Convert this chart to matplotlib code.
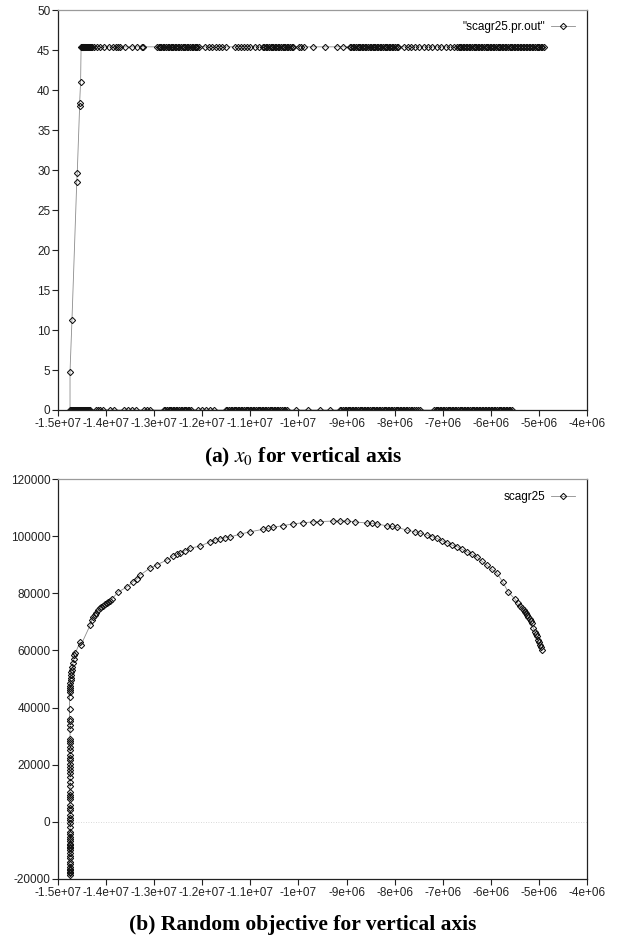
import matplotlib
matplotlib.use('Agg')
import matplotlib.pyplot as plt
from matplotlib.ticker import FuncFormatter, MultipleLocator

################################################################################
# Data (x in units of 1e6).                                                    #
################################################################################

# (a) points sitting on the zero line
zero_x = [-14.75, -14.73, -14.71, -14.69, -14.67, -14.65, -14.63, -14.61, -14.58, -14.56,
          -14.54, -14.52, -14.50, -14.48, -14.46, -14.44, -14.42, -14.40, -14.38, -14.36, -14.33,
          -14.21, -14.17, -14.13, -14.06, -13.92, -13.84, -13.63, -13.54, -13.46, -13.38,
          -13.21, -13.15, -13.09,
          -12.80, -12.77, -12.73, -12.70, -12.67, -12.64, -12.61, -12.58, -12.55, -12.52,
          -12.48, -12.45, -12.42, -12.39, -12.36, -12.33, -12.30, -12.27, -12.23,
          -12.09, -12.01, -11.92, -11.84, -11.76,
          -11.51, -11.48, -11.44, -11.41, -11.38, -11.35, -11.32, -11.29, -11.26, -11.23,
          -11.20, -11.17, -11.13, -11.10, -11.07, -11.04, -11.01, -10.98, -10.95, -10.92,
          -10.88, -10.85, -10.82, -10.79, -10.76, -10.73, -10.70, -10.67, -10.63, -10.60,
          -10.57, -10.54, -10.51, -10.48, -10.45, -10.42, -10.38, -10.34, -10.30, -10.27, -10.24,
          -10.05, -9.80, -9.55, -9.35,
          -9.14, -9.11, -9.07, -9.04, -9.01, -8.98, -8.95, -8.92, -8.89, -8.86, -8.83, -8.80,
          -8.76, -8.73, -8.70, -8.67, -8.64, -8.61, -8.58, -8.55, -8.51, -8.48, -8.45, -8.42,
          -8.39, -8.36, -8.33, -8.30, -8.26, -8.23, -8.20, -8.17, -8.14, -8.11, -8.08, -8.05,
          -8.01, -7.98, -7.95, -7.92, -7.89, -7.86, -7.83, -7.80, -7.77, -7.74, -7.70, -7.67,
          -7.64, -7.60, -7.56, -7.52, -7.47,
          -7.18, -7.15, -7.12, -7.09, -7.06, -7.03, -7.00, -6.97, -6.93, -6.90, -6.87, -6.84,
          -6.81, -6.78, -6.75, -6.72, -6.68, -6.65, -6.62, -6.59, -6.56, -6.53, -6.50, -6.47,
          -6.43, -6.40, -6.37, -6.34, -6.31, -6.28, -6.25, -6.22, -6.19, -6.16, -6.12, -6.09,
          -6.06, -6.03, -6.00, -5.97, -5.94, -5.91, -5.87, -5.84, -5.81, -5.78, -5.75, -5.72,
          -5.69, -5.66, -5.63, -5.60, -5.56]

# (a) the climb from 0 up to the plateau
rise_x = [-14.75, -14.71, -14.61, -14.60, -14.55, -14.55, -14.53]
rise_y = [4.8, 11.2, 28.5, 29.6, 38.0, 38.4, 41.0]

# (a) points on the plateau
top_level = 45.4
top_x = [-14.52, -14.51, -14.50, -14.49, -14.48, -14.47, -14.46, -14.45, -14.44, -14.43,
         -14.42, -14.40, -14.38, -14.36, -14.33, -14.31, -14.29, -14.25,
         -14.19, -14.13, -14.04, -13.94, -13.86, -13.79, -13.75, -13.71, -13.61, -13.46,
         -13.36, -13.25, -13.23,
         -12.94, -12.91, -12.88, -12.85, -12.82, -12.79, -12.75, -12.72, -12.69, -12.66,
         -12.63, -12.60, -12.57, -12.54, -12.51, -12.48, -12.44, -12.41, -12.38, -12.35,
         -12.32, -12.29, -12.26, -12.22, -12.19, -12.16, -12.13, -12.10, -12.07,
         -11.94, -11.86, -11.80, -11.72, -11.65, -11.59, -11.51,
         -11.32, -11.26, -11.20, -11.13, -11.07, -11.01, -10.90, -10.82,
         -10.74, -10.71, -10.68, -10.65, -10.61, -10.58, -10.55, -10.52, -10.49, -10.46,
         -10.43, -10.40, -10.36, -10.33, -10.30, -10.27, -10.24, -10.21, -10.18, -10.14, -10.11,
         -9.99, -9.95, -9.89, -9.70, -9.45, -9.20, -9.07,
         -8.93, -8.90, -8.87, -8.84, -8.80, -8.77, -8.74, -8.71, -8.68, -8.65, -8.62, -8.59,
         -8.55, -8.52, -8.49, -8.46, -8.43, -8.40, -8.37, -8.34, -8.31, -8.28, -8.24, -8.21,
         -8.18, -8.15, -8.12, -8.09, -8.06, -8.03, -7.99, -7.96, -7.93,
         -7.81, -7.72, -7.66, -7.58, -7.49,
         -7.39, -7.31, -7.22, -7.12, -7.04, -6.93, -6.85, -6.77,
         -6.70, -6.67, -6.64, -6.61, -6.58, -6.55, -6.52, -6.49, -6.46, -6.43, -6.39, -6.36,
         -6.33, -6.30, -6.27, -6.24, -6.21, -6.18, -6.14, -6.11, -6.08, -6.05, -6.02, -5.99,
         -5.96, -5.93, -5.89, -5.86, -5.83, -5.80, -5.77, -5.74, -5.71, -5.68, -5.64, -5.61,
         -5.58, -5.55, -5.52, -5.49, -5.46, -5.43, -5.40, -5.37, -5.33, -5.30, -5.27, -5.24,
         -5.21, -5.18, -5.15, -5.12, -5.08, -5.05, -5.02, -4.99, -4.96, -4.93, -4.90]

# (b) random objective: near-vertical run at the left ...
vert_x = [-14.75, -14.75, -14.75, -14.75, -14.75, -14.75, -14.75, -14.75, -14.75, -14.75,
          -14.75, -14.75, -14.75, -14.75, -14.75, -14.75, -14.75, -14.75, -14.75, -14.75,
          -14.75, -14.75, -14.75, -14.75, -14.75, -14.75, -14.75, -14.75, -14.75, -14.75,
          -14.75, -14.75, -14.75, -14.75, -14.75, -14.75, -14.75, -14.75, -14.75, -14.75,
          -14.75, -14.75, -14.75, -14.75, -14.75, -14.75, -14.75, -14.75, -14.75, -14.75,
          -14.76, -14.76, -14.76, -14.76, -14.76, -14.76, -14.76, -14.75, -14.75, -14.74,
          -14.74, -14.73, -14.72, -14.71, -14.70, -14.69, -14.67, -14.66, -14.64]
vert_y = [-18600, -18000, -17400, -16900, -16500, -15700, -14800, -14000, -12800, -11800,
          -11000, -9900, -9300, -8800, -8200, -7600, -6800, -6000, -5200, -4300,
          -3500, -1700, -500, 600, 1500, 2300, 4100, 5000, 5800, 8000,
          8700, 9500, 10500, 12500, 14000, 15700, 17000, 18000, 19200, 20300,
          21500, 22300, 23300, 25000, 26200, 27500, 28400, 29100, 32600, 34000,
          35200, 36000, 39500, 43600, 45500, 46100, 47000, 47500, 48500, 49600,
          50500, 51500, 52300, 53100, 54300, 55500, 57000, 58300, 59100]

# ... then the arc
arc_x = [-14.54, -14.52, -14.33, -14.30, -14.27, -14.24, -14.21, -14.17, -14.13, -14.10,
         -14.06, -14.02, -13.98, -13.95, -13.92, -13.88,
         -13.75, -13.57, -13.44, -13.36, -13.30, -13.09, -12.94, -12.73, -12.61, -12.53,
         -12.46, -12.36, -12.26, -12.05, -11.84, -11.74, -11.63, -11.53, -11.42, -11.22,
         -11.01, -10.74, -10.63, -10.53, -10.32, -10.11, -9.91, -9.70, -9.55, -9.28,
         -9.14, -8.99, -8.83, -8.58, -8.47, -8.37, -8.16, -8.06, -7.95, -7.74,
         -7.58, -7.47, -7.33, -7.22, -7.12, -7.02, -6.91, -6.81, -6.70, -6.60,
         -6.50, -6.39, -6.29, -6.19, -6.08, -5.98, -5.87, -5.75, -5.64, -5.50,
         -5.44, -5.40, -5.35, -5.32, -5.29, -5.27, -5.25, -5.22, -5.19, -5.17, -5.15, -5.12,
         -5.08, -5.06, -5.04, -5.02, -5.00, -4.98, -4.96, -4.94]
arc_y = [62950, 62000, 68900, 70500, 71700, 72400, 73000, 74000, 74850, 75300,
         75700, 76200, 76600, 77000, 77300, 78000,
         80450, 82200, 84000, 85000, 86300, 88800, 90000, 91700, 93000, 93600,
         94100, 94900, 95800, 96500, 98000, 98600, 99000, 99400, 99700, 100700,
         101500, 102400, 102700, 103100, 103700, 104300, 104700, 105000, 105100, 105300,
         105300, 105300, 105000, 104600, 104500, 104300, 103600, 103400, 103100, 102100,
         101500, 101000, 100400, 99800, 99200, 98400, 97600, 96900, 96300, 95400,
         94500, 93600, 92700, 91300, 89800, 88400, 87000, 83900, 80500, 78000,
         76500, 75500, 74900, 74200, 73600, 73000, 72400, 71700, 71000, 70300, 69600, 68000,
         66500, 65800, 65000, 63600, 62800, 62000, 61100, 60200]

################################################################################
# Plot.                                                                        #
################################################################################

plt.rcParams['font.family'] = ['Liberation Sans', 'DejaVu Sans']
plt.rcParams['mathtext.fontset'] = 'stix'

fig = plt.figure(figsize=(6.25, 9.38), dpi=100)

sty = dict(color='#8c8c8c', lw=0.6, marker='D', ms=3.2, mfc='none', mec='#111111', mew=0.75)
fmt = FuncFormatter(lambda v, p: '%g' % v)


def style_axes(ax):
  ax.set_xlim(-1.5e7, -4e6)
  ax.xaxis.set_major_locator(MultipleLocator(1e6))
  ax.xaxis.set_major_formatter(fmt)
  ax.yaxis.set_major_formatter(fmt)
  ax.tick_params(direction='out', length=4, width=0.8, labelsize=8.5, pad=1.5, colors='#222222')
  for s in ['left', 'bottom', 'right']:
    ax.spines[s].set_color('#222222')
    ax.spines[s].set_linewidth(0.9)
  ax.spines['top'].set_color('#9a9a9a')
  ax.spines['top'].set_linewidth(0.9)


# (a)
ax = fig.add_axes([0.0928, 0.5629, 0.8464, 0.4264])
px = [v*1e6 for v in zero_x[::-1]] + [v*1e6 for v in rise_x] + [v*1e6 for v in top_x]
py = [0]*len(zero_x) + rise_y + [top_level]*len(top_x)
ax.plot(px, py, label='"scagr25.pr.out"', **sty)
ax.set_ylim(0, 50)
ax.yaxis.set_major_locator(MultipleLocator(5))
style_axes(ax)
ax.legend(loc='center right', bbox_to_anchor=(0.977, 0.9575), frameon=False, markerfirst=False,
          fontsize=8.5, handlelength=2.0, handletextpad=0.5, borderpad=0, borderaxespad=0)
fig.text(0.485, 0.5125, r'(a) $x_0$ for vertical axis', ha='center', va='center',
         fontsize=15.5, fontweight='bold', family='Liberation Serif')

# (b)
ax = fig.add_axes([0.0928, 0.0629, 0.8464, 0.4264])
ax.axhline(0, color='#cccccc', lw=0.6, ls=(0, (1, 2)), zorder=0)
ax.plot([v*1e6 for v in vert_x + arc_x], vert_y + arc_y, label='scagr25', **sty)
ax.set_ylim(-20000, 120000)
ax.yaxis.set_major_locator(MultipleLocator(20000))
style_axes(ax)
ax.legend(loc='center right', bbox_to_anchor=(0.977, 0.955), frameon=False, markerfirst=False,
          fontsize=8.5, handlelength=2.0, handletextpad=0.5, borderpad=0, borderaxespad=0)
fig.text(0.485, 0.0139, '(b) Random objective for vertical axis', ha='center', va='center',
         fontsize=15.5, fontweight='bold', family='Liberation Serif')

fig.savefig('out.png', dpi=100)
plt.close()
